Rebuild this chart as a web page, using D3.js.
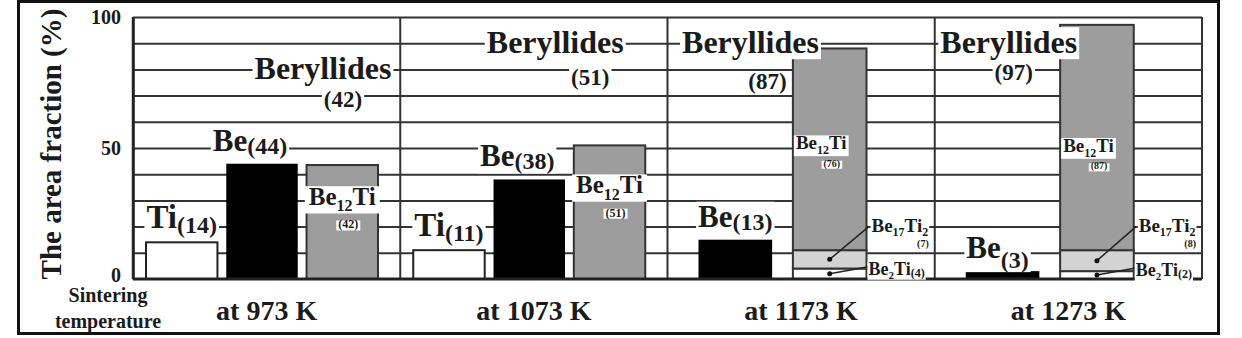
<!DOCTYPE html>
<html>
<head>
<meta charset="utf-8">
<script src="https://cdn.jsdelivr.net/npm/d3@7/dist/d3.min.js"></script>
<style>
  body { margin: 0; background: #fff; }
  text { font-family: "Liberation Serif", "Tinos", "DejaVu Serif", "Noto Serif", serif; font-weight: bold; fill: #1b1b1b; }
</style>
</head>
<body>
<script>
'use strict';

// sintering temperatures, one panel each
const temps = ["at 973 K", "at 1073 K", "at 1173 K", "at 1273 K"];

// area fraction (%) as drawn by the bars
const tiFrac = [14, 11, 0, 0];
const beFrac = [44, 38, 15, 3];
const be2TiFrac = [0, 0, 4, 3];
const be17Ti2Frac = [0, 0, 7, 8];
const be12TiFrac = [43.5, 51, 77, 86];

// numbers printed next to the bars
const tiLabels = ["(14)", "(11)", "", ""];
const beLabels = ["(44)", "(38)", "(13)", "(3)"];
const beryllideLabels = ["(42)", "(51)", "(87)", "(97)"];
const be12TiLabels = ["(42)", "(51)", "(76)", "(87)"];
const be17Ti2Labels = ["", "", "(7)", "(8)"];
const be2TiLabels = ["", "", "(4)", "(2)"];

const yTicks = [0, 50, 100];
const gridTicks = [10, 20, 30, 40, 50, 60, 70, 80, 90, 100];

// label placement (group offset px, value %) - layout only
const berylTitlePos = [[190, 80], [155, 90], [83, 90], [74, 90]];
const berylNumPos = [[210, 65.5], [190, 74], [100, 72.5], [79, 76]];
const be12TiBoxAt = [31.5, 36, 52, 51];
const beNudge = [-12, -12, 0, -5];

const W = 1242, H = 338;
const plotLeft = 133, plotRight = 1202;

const svg = d3.select("body").append("svg")
  .attr("width", W)
  .attr("height", H);

svg.append("rect")
  .attr("width", W).attr("height", H)
  .attr("fill", "#fff");

// outer frame
svg.append("rect")
  .attr("x", 18.5).attr("y", 1.5)
  .attr("width", 1200).attr("height", 332)
  .attr("fill", "none")
  .attr("stroke", "#111")
  .attr("stroke-width", 3);

let x = d3.scaleBand().domain(temps).range([plotLeft, plotRight]);
let y = d3.scaleLinear().domain([0, 100]).range([279, 17]);

// slots inside a panel
let slot3 = d3.scaleBand().domain(["Ti", "Be", "Beryllides"]).range([13, 245]).paddingInner(0.11);
let slot2 = d3.scaleBand().domain(["Be", "Beryllides"]).range([31, 199]).paddingInner(0.22);
function slotOf(i) { return tiFrac[i] > 0 ? slot3 : slot2; }

// horizontal grid
svg.append("g")
  .attr("transform", "translate(" + plotLeft + ",0)")
  .call(d3.axisLeft(y).tickValues(gridTicks).tickSize(-(plotRight - plotLeft)).tickFormat(""))
  .call(g => g.select(".domain").remove())
  .call(g => g.selectAll("line").attr("stroke", "#333").attr("stroke-width", 2));

// panel dividers
svg.append("g").selectAll("line")
  .data(temps.concat(["end"]))
  .enter()
  .append("line")
    .attr("x1", d => d === "end" ? plotRight : x(d))
    .attr("x2", d => d === "end" ? plotRight : x(d))
    .attr("y1", y(100))
    .attr("y2", y(0))
    .attr("stroke", "#333")
    .attr("stroke-width", d => d === temps[0] ? 2.5 : 2);

// Ti bars
svg.append("g").selectAll("rect")
  .data(temps.filter((t, i) => tiFrac[i] > 0))
  .enter()
  .append("rect")
    .attr("x", t => x(t) + slot3("Ti"))
    .attr("y", t => y(tiFrac[temps.indexOf(t)]))
    .attr("width", slot3.bandwidth())
    .attr("height", t => y(0) - y(tiFrac[temps.indexOf(t)]))
    .attr("fill", "#fff")
    .attr("stroke", "#222")
    .attr("stroke-width", 2);

// Be bars
svg.append("g").selectAll("rect")
  .data(temps)
  .enter()
  .append("rect")
    .attr("x", (t, i) => x(t) + slotOf(i)("Be"))
    .attr("y", (t, i) => y(beFrac[i]))
    .attr("width", (t, i) => slotOf(i).bandwidth())
    .attr("height", (t, i) => y(0) - y(beFrac[i]))
    .attr("fill", "#000");

// beryllide stacks
let table = temps.map((t, i) => ({
  temp: t, be2Ti: be2TiFrac[i], be17Ti2: be17Ti2Frac[i], be12Ti: be12TiFrac[i]
}));
let stackKeys = ["be2Ti", "be17Ti2", "be12Ti"];
let stackColor = d3.scaleOrdinal().domain(stackKeys).range(["#fbfbfb", "#d3d3d3", "#9d9d9d"]);
let series = d3.stack().keys(stackKeys)(table);

svg.append("g").selectAll("g")
  .data(series)
  .enter()
  .append("g")
    .attr("fill", d => stackColor(d.key))
  .selectAll("rect")
  .data(d => d.filter(p => p[1] - p[0] > 0))
  .enter()
  .append("rect")
    .attr("x", p => x(p.data.temp) + slotOf(temps.indexOf(p.data.temp))("Beryllides"))
    .attr("y", p => y(p[1]))
    .attr("width", p => slotOf(temps.indexOf(p.data.temp)).bandwidth())
    .attr("height", p => y(p[0]) - y(p[1]))
    .attr("stroke", "#333")
    .attr("stroke-width", 2);

// baseline
svg.append("line")
  .attr("x1", plotLeft).attr("x2", plotRight)
  .attr("y1", y(0)).attr("y2", y(0))
  .attr("stroke", "#222").attr("stroke-width", 3);

// text with a white box behind it
function boxed(parent, px, py, parts, anchor, pad) {
  let g = parent.append("g");
  let t = g.append("text")
    .attr("x", px).attr("y", py)
    .attr("text-anchor", anchor || "start");
  parts.forEach(p => {
    t.append("tspan")
      .attr("font-size", p.size + "px")
      .attr("dy", p.dy || 0)
      .text(p.text);
  });
  let b = t.node().getBBox();
  let pd = pad === undefined ? 2 : pad;
  g.insert("rect", "text")
    .attr("x", b.x - pd).attr("y", b.y + 3)
    .attr("width", b.width + 2 * pd).attr("height", b.height - 4)
    .attr("fill", "#fff");
  return g;
}

let labels = svg.append("g");

temps.forEach((t, i) => {
  let x0 = x(t);
  let s = slotOf(i);
  let stackX = x0 + s("Beryllides");
  let stackMid = stackX + s.bandwidth() / 2;
  let stackRight = stackX + s.bandwidth();

  // Ti
  if (tiFrac[i] > 0) {
    boxed(labels, x0 + slot3("Ti") + slot3.bandwidth() / 2, y(tiFrac[i]) - 14, [
      { text: "Ti", size: 33 },
      { text: tiLabels[i], size: 24, dy: 5 }
    ], "middle");
  }

  // Be
  boxed(labels, x0 + s("Be") + s.bandwidth() / 2 + beNudge[i], y(beFrac[i]) - 13, [
    { text: "Be", size: 31 },
    { text: beLabels[i], size: 24, dy: i === 3 ? 10 : 3 }
  ], "middle");

  // Beryllides title and total
  boxed(labels, x0 + berylTitlePos[i][0], y(berylTitlePos[i][1]) + 10, [
    { text: "Beryllides", size: 32 }
  ], "middle");
  boxed(labels, x0 + berylNumPos[i][0], y(berylNumPos[i][1]), [
    { text: beryllideLabels[i], size: 23 }
  ], "middle");

  // Be12Ti inside the stack
  let big = i < 2;
  let fs = big ? 25 : 19;
  let fsub = big ? 16 : 12;
  let cy = y(be12TiBoxAt[i]);
  boxed(labels, big ? stackMid : stackX + 3, cy + fs * 0.35, [
    { text: "Be", size: fs },
    { text: "12", size: fsub, dy: fs * 0.25 },
    { text: "Ti", size: fs, dy: -fs * 0.25 }
  ], big ? "middle" : "start", big ? 4 : 2);
  boxed(labels, big ? stackMid + 6 : stackX + 39, cy + (big ? 32 : 24), [
    { text: be12TiLabels[i], size: big ? 12 : 10 }
  ], "middle", 2);

  // minor beryllides with leader lines
  if (be17Ti2Frac[i] > 0) {
    let l17 = y(be2TiFrac[i] + be17Ti2Frac[i] / 2);
    let l2 = y(be2TiFrac[i] / 2);
    let ly17 = y(be2TiFrac[i] + be17Ti2Frac[i] + 7);
    let ly2 = y(be2TiFrac[i] / 2) - 5;

    labels.append("line")
      .attr("x1", stackMid).attr("y1", l17)
      .attr("x2", stackRight + 2).attr("y2", ly17 - 5)
      .attr("stroke", "#222").attr("stroke-width", 1.5);
    labels.append("line")
      .attr("x1", stackMid).attr("y1", l2)
      .attr("x2", stackRight + 2).attr("y2", ly2 - 2)
      .attr("stroke", "#222").attr("stroke-width", 1.5);
    labels.append("circle").attr("cx", stackMid).attr("cy", l17).attr("r", 2.5).attr("fill", "#111");
    labels.append("circle").attr("cx", stackMid).attr("cy", l2).attr("r", 2.5).attr("fill", "#111");

    boxed(labels, stackRight + 5, ly17, [
      { text: "Be", size: 19 },
      { text: "17", size: 12, dy: 4 },
      { text: "Ti", size: 19, dy: -4 },
      { text: "2", size: 12, dy: 4 }
    ], "start", 1);
    boxed(labels, x0 + x.bandwidth() - 6, ly17 + 15, [
      { text: be17Ti2Labels[i], size: 10 }
    ], "end", 1);
    boxed(labels, stackRight + 2, ly2 + 6, [
      { text: "Be", size: 18 },
      { text: "2", size: 11, dy: 4 },
      { text: "Ti", size: 18, dy: -4 },
      { text: be2TiLabels[i], size: 12, dy: 2 }
    ], "start", 1);
  }
});

// y axis ticks
svg.append("g")
  .attr("transform", "translate(" + plotLeft + ",0)")
  .call(d3.axisLeft(y).tickValues(yTicks).tickSize(0).tickPadding(12))
  .call(g => g.select(".domain").attr("stroke", "#222").attr("stroke-width", 2.5))
  .call(g => g.selectAll("text")
    .attr("dy", d => d === 0 ? "0.1em" : "0.32em")
    .style("font-size", "20px"));

// panel labels
svg.append("g")
  .attr("transform", "translate(0," + y(0) + ")")
  .call(d3.axisBottom(x).tickSize(0))
  .call(g => g.select(".domain").remove())
  .call(g => g.selectAll("text")
    .attr("y", 41)
    .attr("dy", 0)
    .style("font-size", "28px"));

// axis titles
svg.append("text")
  .attr("transform", "translate(61,144) rotate(-90)")
  .attr("text-anchor", "middle")
  .attr("font-size", "29px")
  .text("The area fraction (%)");

svg.append("text")
  .attr("x", 108).attr("y", 302)
  .attr("text-anchor", "middle")
  .attr("font-size", "20px")
  .text("Sintering");

svg.append("text")
  .attr("x", 108).attr("y", 328)
  .attr("text-anchor", "middle")
  .attr("font-size", "20px")
  .text("temperature");
</script>
</body>
</html>
